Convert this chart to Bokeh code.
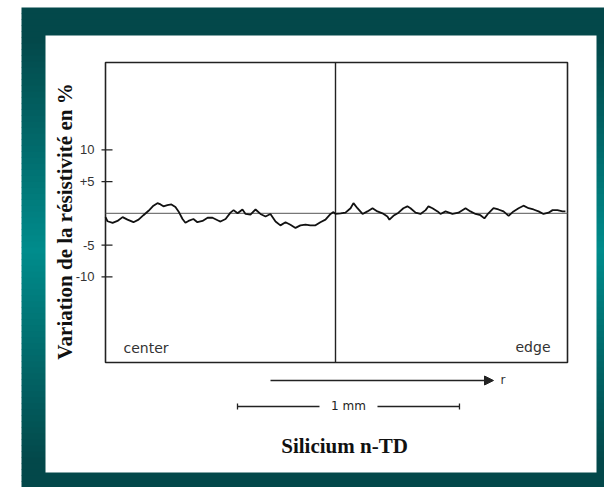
from bokeh.plotting import figure
from bokeh.models import Range1d, Arrow, NormalHead
from bokeh.core.properties import value
from bokeh.embed import file_html
from bokeh.resources import INLINE

# ---------------- data ----------------
# radial position (micrometres, from the centre side of the scan)
r_um = [0, 9, 32, 54, 77, 99, 126, 149, 171, 194, 216, 234, 248, 261, 279, 297,
        315, 329, 347, 360, 374, 396, 414, 437, 460, 482, 505, 518, 541, 563, 577,
        595, 617, 631, 653, 676, 698, 721, 743, 766, 788, 811, 833, 856, 878, 901,
        923, 946, 968, 991, 1014, 1027, 1036, 1059, 1081, 1104, 1117, 1135, 1158,
        1180, 1203, 1225, 1248, 1270, 1279, 1297, 1320, 1342, 1360, 1374, 1397,
        1419, 1442, 1455, 1473, 1496, 1509, 1532, 1563, 1590, 1622, 1644, 1667,
        1689, 1707, 1725, 1748, 1770, 1793, 1816, 1838, 1861, 1883, 1906, 1928,
        1951, 1973, 1996, 2014, 2036, 2059, 2072]
# resistivity variation (%)
variation_pct = [-0.6, -1.25, -1.5, -1.2, -0.6, -1.0, -1.4, -1.0, -0.3, 0.4, 1.2, 1.6,
                 1.4, 1.1, 1.3, 1.4, 1.0, 0.3, -0.9, -1.5, -1.2, -0.9, -1.4, -1.2,
                 -0.7, -0.7, -1.1, -1.3, -0.9, 0.1, 0.5, 0.0, 0.6, -0.1, -0.2, 0.6,
                 -0.1, -0.5, -0.1, -1.3, -1.9, -1.4, -1.8, -2.3, -1.9, -1.8, -1.9,
                 -1.9, -1.4, -1.0, -0.1, 0.2, -0.1, 0.0, 0.1, 0.8, 1.6, 0.8, -0.1,
                 0.3, 0.8, 0.3, 0.0, -0.5, -1.0, -0.4, 0.1, 0.8, 1.1, 0.8, 0.1, -0.1,
                 0.5, 1.1, 0.8, 0.3, -0.1, 0.3, -0.1, 0.1, 0.8, 0.3, -0.1, -0.3, -0.8,
                 0.0, 0.8, 0.6, 0.3, -0.4, 0.3, 0.8, 1.2, 0.8, 0.6, 0.3, -0.1, 0.1,
                 0.5, 0.5, 0.3, 0.3]
y_ticks = [10, 5, -5, -10]
y_tick_labels = ["10", "+5", "-5", "-10"]
y_label = "Variation de la résistivité en %"
title_text = "Silicium n-TD"
left_label = "center"
right_label = "edge"
scale_len_um = 1000
scale_label = "1 mm"
arrow_label = "r"

# ---------------- layout (page pixels) ----------------
W, H = 604, 487
BOX_L, BOX_R, BOX_T, BOX_B = 105, 567, 62, 362
CENTER_PX = 335
UM_PER_PX = 4.505
ZERO_PY = 212.8
PX_PER_PCT = 6.35


def X(px):
    return (px - BOX_L) * UM_PER_PX


def Y(py):
    return (ZERO_PY - py) / PX_PER_PCT


R_MAX = X(BOX_R)
R_CENTER = X(CENTER_PX)

p = figure(width=W, height=H, x_range=Range1d(X(0), X(W)), y_range=Range1d(Y(H), Y(0)),
           min_border=0, toolbar_location=None, output_backend="svg",
           x_axis_type=None, y_axis_type=None, outline_line_color=None,
           background_fill_color="white", border_fill_color="white")
p.grid.visible = False

# ---- teal frame with vertical gradient ----
dark = (3, 72, 74)
bright = (0, 140, 140)
N = 80
top0, bot0 = 7, H
band = (bot0 - top0) / N
lefts, rights, tops, bottoms, cols = [], [], [], [], []
for i in range(N):
    y0 = top0 + i * band
    y1 = y0 + band + 0.6
    mid = (y0 + y1) / 2
    t = max(0.0, 1 - abs(mid - 250) / 210)
    c = tuple(int(round(d + (b - d) * t)) for d, b in zip(dark, bright))
    lefts.append(X(21)); rights.append(X(W + 2))
    tops.append(Y(y0)); bottoms.append(Y(y1))
    cols.append("#%02x%02x%02x" % c)
p.quad(left=lefts, right=rights, top=tops, bottom=bottoms, fill_color=cols, line_color=None)

# white panel
p.quad(left=X(45), right=X(596), top=Y(35), bottom=Y(472), fill_color="white", line_color=None)

# ---- chart box ----
p.quad(left=0, right=R_MAX, top=Y(BOX_T), bottom=Y(BOX_B), fill_color=None,
       line_color="#222222", line_width=1.6)
p.segment(x0=[R_CENTER], x1=[R_CENTER], y0=[Y(BOX_T)], y1=[Y(BOX_B)],
          line_color="#222222", line_width=1.4)
p.segment(x0=[0], x1=[R_MAX], y0=[0], y1=[0], line_color="#555555", line_width=1)

# data curve
p.line(r_um, variation_pct, line_color="#111111", line_width=1.8)

# y ticks
p.segment(x0=[X(101)] * len(y_ticks), x1=[X(112)] * len(y_ticks), y0=y_ticks, y1=y_ticks,
          line_color="#222222", line_width=1.3)
p.text(x=[X(94)] * len(y_ticks), y=y_ticks, text=y_tick_labels, text_align="right",
       text_baseline="middle", text_font=value("Liberation Sans"), text_font_size="13px",
       text_color="#333333")

# y label
p.text(x=[X(64)], y=[Y(221)], text=[y_label], angle=1.5707963, text_align="center",
       text_baseline="middle", text_font=value("Liberation Serif"), text_font_style="bold",
       text_font_size="21px", text_color="#111111")

# center / edge labels
p.text(x=[X(123)], y=[Y(347)], text=[left_label], text_align="left", text_baseline="middle",
       text_font=value("DejaVu Sans"), text_font_size="14px", text_color="#333333")
p.text(x=[X(550)], y=[Y(346)], text=[right_label], text_align="right", text_baseline="middle",
       text_font=value("DejaVu Sans"), text_font_size="14px", text_color="#333333")

# r arrow
p.add_layout(Arrow(end=NormalHead(size=9, fill_color="#222222", line_color="#222222"),
                   x_start=X(270), y_start=Y(380), x_end=X(493), y_end=Y(380),
                   line_color="#222222", line_width=1.4))
p.text(x=[X(500)], y=[Y(379)], text=[arrow_label], text_align="left", text_baseline="middle",
       text_font=value("DejaVu Sans"), text_font_size="12px", text_color="#333333")

# scale bar
s0 = X(237)
s1 = s0 + scale_len_um
sm = (s0 + s1) / 2
gap = 29 * UM_PER_PX
p.segment(x0=[s0, sm + gap], x1=[sm - gap, s1], y0=[Y(406), Y(406)], y1=[Y(406), Y(406)],
          line_color="#222222", line_width=1.3)
p.segment(x0=[s0, s1], x1=[s0, s1], y0=[Y(403), Y(403)], y1=[Y(409), Y(409)],
          line_color="#222222", line_width=1.3)
p.text(x=[sm], y=[Y(405)], text=[scale_label], text_align="center", text_baseline="middle",
       text_font=value("DejaVu Sans"), text_font_size="12px", text_color="#222222")

# title
p.text(x=[X(344)], y=[Y(445)], text=[title_text], text_align="center", text_baseline="middle",
       text_font=value("Liberation Serif"), text_font_style="bold", text_font_size="21px",
       text_color="#111111")

open("out.html", "w").write(file_html(p, INLINE))
